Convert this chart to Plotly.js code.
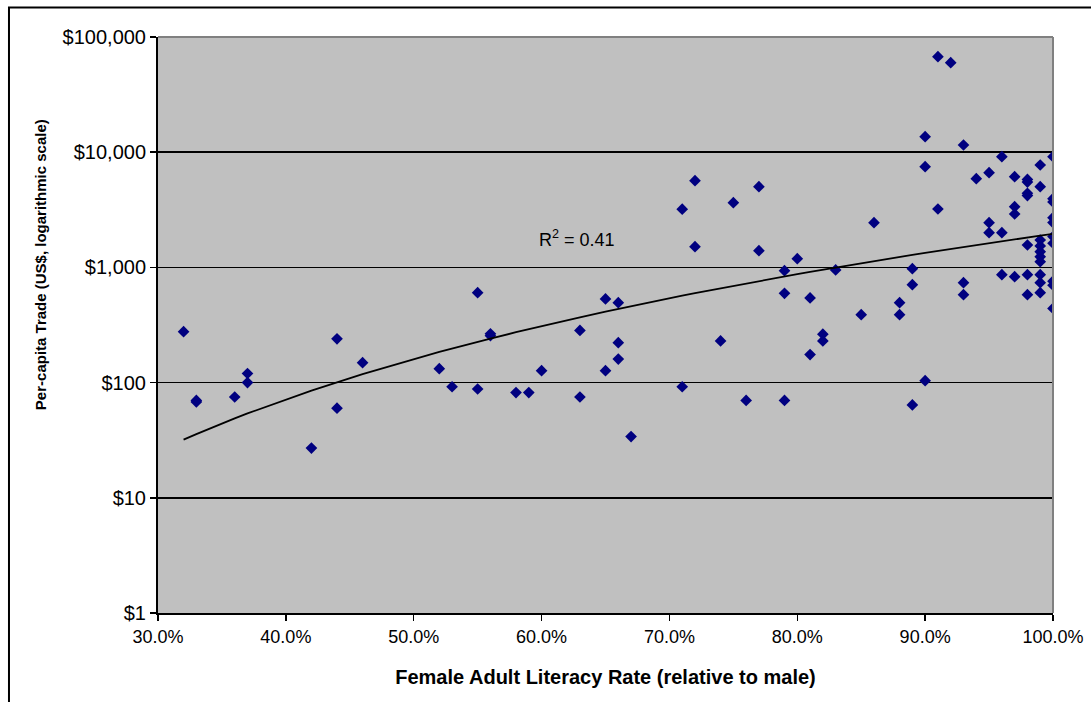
<!DOCTYPE html>
<html>
<head>
<meta charset="utf-8">
<script src="https://cdn.plot.ly/plotly-3.0.1.min.js"></script>
<style>
  html, body { margin: 0; padding: 0; background: #ffffff; }
  #chart { width: 1091px; height: 702px; }
</style>
</head>
<body>
<div id="chart"></div>
<script>
// Female adult literacy rate (as a share of the male rate), one entry per country
const femaleLiteracy = [
  0.32, 0.33, 0.33, 0.36, 0.37, 0.37, 0.42, 0.44, 0.44, 0.46,
  0.52, 0.53, 0.55, 0.55, 0.56, 0.56, 0.58, 0.59, 0.60, 0.63, 0.63,
  0.65, 0.65, 0.66, 0.66, 0.66, 0.67,
  0.71, 0.71, 0.72, 0.72, 0.74, 0.75, 0.76, 0.77, 0.77,
  0.79, 0.79, 0.79, 0.80, 0.81, 0.81, 0.82, 0.82, 0.83, 0.85, 0.86,
  0.88, 0.88, 0.89, 0.89, 0.89, 0.90, 0.90, 0.90, 0.91, 0.91, 0.92,
  0.93, 0.93, 0.93, 0.94, 0.95, 0.95, 0.95, 0.96, 0.96, 0.96,
  0.97, 0.97, 0.97, 0.97,
  0.98, 0.98, 0.98, 0.98, 0.98, 0.98, 0.98,
  0.99, 0.99, 0.99, 0.99, 0.99, 0.99, 0.99, 0.99, 0.99, 0.99,
  1.00, 1.00, 1.00, 1.00, 1.00, 1.00, 1.00, 1.00, 1.00, 1.00
];

// Per-capita trade in US dollars, same order as femaleLiteracy
const perCapitaTrade = [
  277, 68, 70, 75, 120, 100, 27, 240, 60, 149,
  132, 92, 603, 88, 255, 265, 82, 82, 127, 284, 75,
  532, 127, 494, 222, 160, 34,
  3200, 92, 5660, 1513, 230, 3646, 70, 5020, 1397,
  936, 596, 70, 1190, 543, 175, 263, 230, 950, 389, 2444,
  494, 389, 975, 708, 64, 13640, 7485, 104, 67500, 3214, 59800,
  11550, 737, 580, 5890, 6640, 2444, 2000, 9140, 2000, 864,
  6130, 3365, 2909, 830,
  5800, 5500, 4400, 4200, 1565, 864, 580,
  7740, 5020, 1730, 1535, 1369, 1239, 1122, 864, 737, 603,
  9140, 3950, 3700, 2700, 2450, 1850, 1620, 760, 700, 440
];

const xTickVals = [0.3, 0.4, 0.5, 0.6, 0.7, 0.8, 0.9, 1.0];
const yTickVals = [1, 10, 100, 1000, 10000, 100000];
const yTickText = ['$1', '$10', '$100', '$1,000', '$10,000', '$100,000'];
const xTitle = '<b>Female Adult Literacy Rate (relative to male)</b>';
const yTitle = '<b>Per-capita Trade (US$, logarithmic scale)</b>';
const fitLabel = 'R<sup>2</sup> = 0.41';

// Power trend line y = a * x^b, least squares on ln(x), ln(y)
function powerFit(xs, ys) {
  const n = xs.length;
  let sx = 0, sy = 0, sxx = 0, sxy = 0;
  for (let i = 0; i < n; i++) {
    const lx = Math.log(xs[i]), ly = Math.log(ys[i]);
    sx += lx; sy += ly; sxx += lx * lx; sxy += lx * ly;
  }
  const b = (n * sxy - sx * sy) / (n * sxx - sx * sx);
  const a = Math.exp((sy - b * sx) / n);
  return { a, b };
}
const fit = powerFit(femaleLiteracy, perCapitaTrade);
const trendX = Array.from(new Set(femaleLiteracy)).sort((p, q) => p - q);
const trendY = trendX.map(x => fit.a * Math.pow(x, fit.b));

const font = 'Liberation Sans, Arial, sans-serif';

const traces = [
  {
    type: 'scatter',
    mode: 'markers',
    x: femaleLiteracy,
    y: perCapitaTrade,
    marker: { symbol: 'diamond', size: 9, color: '#000080', line: { width: 0 } },
    hoverinfo: 'x+y'
  },
  {
    type: 'scatter',
    mode: 'lines',
    x: trendX,
    y: trendY,
    line: { color: '#000000', width: 1.8 },
    hoverinfo: 'skip'
  }
];

const layout = {
  width: 1091,
  height: 702,
  showlegend: false,
  paper_bgcolor: '#ffffff',
  plot_bgcolor: '#C0C0C0',
  margin: { l: 158, r: 38, t: 37, b: 89, pad: 0 },
  font: { family: font, color: '#000000' },
  xaxis: {
    range: [0.3, 1.0],
    tickvals: xTickVals,
    tickformat: '.1%',
    ticks: 'outside',
    ticklen: 6,
    tickwidth: 1.5,
    tickcolor: '#000000',
    showline: true,
    linecolor: '#000000',
    linewidth: 2,
    showgrid: false,
    zeroline: false,
    automargin: false,
    tickfont: { family: font, size: 18, color: '#000000' },
    title: {
      text: xTitle,
      font: { family: font, size: 20, color: '#000000' },
      standoff: 24
    }
  },
  yaxis: {
    type: 'log',
    range: [0, 5],
    tickvals: yTickVals,
    ticktext: yTickText,
    ticks: 'outside',
    ticklen: 6,
    tickwidth: 1.5,
    tickcolor: '#000000',
    showline: true,
    linecolor: '#000000',
    linewidth: 2,
    showgrid: true,
    gridcolor: '#000000',
    gridwidth: 1.5,
    zeroline: false,
    automargin: false,
    tickfont: { family: font, size: 20, color: '#000000' }
  },
  annotations: [
    {
      // vertical axis title, sitting a little above the middle of the axis
      xref: 'paper', yref: 'paper',
      x: -0.1318, y: 0.604,
      xanchor: 'center', yanchor: 'middle',
      textangle: -90,
      text: yTitle,
      showarrow: false,
      font: { family: font, size: 15, color: '#000000' }
    },
    {
      xref: 'x', yref: 'y',
      x: 0.628, y: 3.255,
      text: fitLabel,
      showarrow: false,
      font: { family: font, size: 18, color: '#000000' }
    }
  ],
  shapes: [
    // grey top and right edges of the plotting area
    { type: 'line', xref: 'paper', yref: 'paper', x0: 0, x1: 1, y0: 1, y1: 1,
      line: { color: '#808080', width: 2 }, layer: 'above' },
    { type: 'line', xref: 'paper', yref: 'paper', x0: 1, x1: 1, y0: 0, y1: 1,
      line: { color: '#808080', width: 2 }, layer: 'above' },
    // outer chart frame
    { type: 'rect', xref: 'paper', yref: 'paper',
      x0: -0.1665, x1: 1.08, y0: -0.2, y1: 1.0512,
      line: { color: '#000000', width: 2 }, fillcolor: 'rgba(0,0,0,0)', layer: 'above' }
  ]
};

Plotly.newPlot('chart', traces, layout, { displayModeBar: false, staticPlot: true });
</script>
</body>
</html>
